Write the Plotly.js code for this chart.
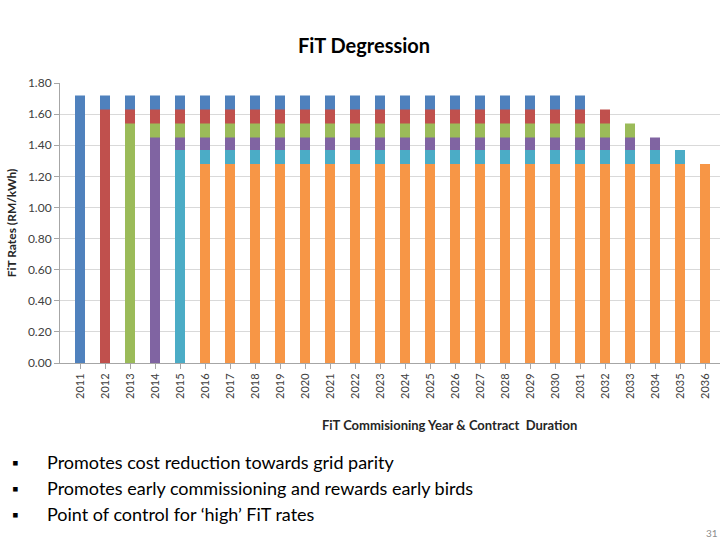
<!DOCTYPE html>
<html>
<head>
<meta charset="utf-8">
<script src="https://cdn.plot.ly/plotly-3.0.1.min.js"></script>
<style>
html,body{margin:0;padding:0;background:#fff;}
#chart{width:728px;height:546px;}
</style>
</head>
<body>
<div id="chart"></div>
<script>
const years = ["2011","2012","2013","2014","2015","2016","2017","2018","2019","2020","2021","2022","2023","2024","2025","2026","2027","2028","2029","2030","2031","2032","2033","2034","2035","2036"];

const cohort2011 = [1.72,1.72,1.72,1.72,1.72,1.72,1.72,1.72,1.72,1.72,1.72,1.72,1.72,1.72,1.72,1.72,1.72,1.72,1.72,1.72,1.72,null,null,null,null,null];
const cohort2012 = [null,1.63,1.63,1.63,1.63,1.63,1.63,1.63,1.63,1.63,1.63,1.63,1.63,1.63,1.63,1.63,1.63,1.63,1.63,1.63,1.63,1.63,null,null,null,null];
const cohort2013 = [null,null,1.54,1.54,1.54,1.54,1.54,1.54,1.54,1.54,1.54,1.54,1.54,1.54,1.54,1.54,1.54,1.54,1.54,1.54,1.54,1.54,1.54,null,null,null];
const cohort2014 = [null,null,null,1.45,1.45,1.45,1.45,1.45,1.45,1.45,1.45,1.45,1.45,1.45,1.45,1.45,1.45,1.45,1.45,1.45,1.45,1.45,1.45,1.45,null,null];
const cohort2015 = [null,null,null,null,1.37,1.37,1.37,1.37,1.37,1.37,1.37,1.37,1.37,1.37,1.37,1.37,1.37,1.37,1.37,1.37,1.37,1.37,1.37,1.37,1.37,null];
const cohort2016 = [null,null,null,null,null,1.28,1.28,1.28,1.28,1.28,1.28,1.28,1.28,1.28,1.28,1.28,1.28,1.28,1.28,1.28,1.28,1.28,1.28,1.28,1.28,1.28];

const seriesNames = ["2011","2012","2013","2014","2015","2016"];
const seriesColors = ["#4F81BD","#C0504D","#9BBB59","#8064A2","#4BACC6","#F79646"];
const seriesValues = [cohort2011,cohort2012,cohort2013,cohort2014,cohort2015,cohort2016];

const bullets = [
  "Promotes cost reduction towards grid parity",
  "Promotes early commissioning and rewards early birds",
  "Point of control for \u2018high\u2019 FiT rates"
];

const FONT = "Lato, 'Open Sans', sans-serif";

const traces = seriesValues.map((vals, i) => ({
  type: "bar",
  x: years,
  y: vals,
  name: seriesNames[i],
  marker: {color: seriesColors[i], line: {width: 0}},
  width: 0.4,
  hoverinfo: "x+y"
}));

// paper coordinates for text below the plot
const plotLeft = 60, plotW = 660, plotTop = 83, plotH = 280;
const px = v => (v - plotLeft) / plotW;
const py = v => (plotTop + plotH - v) / plotH;

const annotations = [];
const bulletY = [462, 488, 514];
bullets.forEach((t, i) => {
  annotations.push({xref:"paper", yref:"paper", x: px(10), y: py(bulletY[i]), xanchor:"left", yanchor:"middle",
    text:"\u25AA", showarrow:false, font:{family:FONT, size:17, color:"#000"}});
  annotations.push({xref:"paper", yref:"paper", x: px(45), y: py(bulletY[i]), xanchor:"left", yanchor:"middle",
    text:t, showarrow:false, font:{family:FONT, size:18, color:"#000"}});
});
annotations.push({xref:"paper", yref:"paper", x: px(449), y: py(425), xanchor:"center", yanchor:"middle",
  text:"<b>FiT Commisioning Year & Contract  Duration</b>", showarrow:false,
  font:{family:FONT, size:13, color:"#262626"}});
annotations.push({xref:"paper", yref:"paper", x: px(720), y: py(533), xanchor:"right", yanchor:"middle",
  text:"31", showarrow:false, font:{family:FONT, size:10, color:"#8c8c8c"}});

const layout = {
  width: 728, height: 546,
  margin: {l: 60, r: 8, t: 83, b: 183},
  paper_bgcolor: "#fff", plot_bgcolor: "#fff",
  title: {text: "<b>FiT Degression</b>", x: 0.5, xref: "container", xanchor: "center", y: 1 - 46/546, yanchor: "middle",
    font: {family: FONT, size: 20, color: "#000"}},
  barmode: "overlay",
  showlegend: false,
  xaxis: {
    type: "category",
    range: [-0.8, 25.6],
    tickangle: -90,
    tickfont: {family: FONT, size: 11, color: "#404040"},
    showgrid: false,
    showline: true, linecolor: "#a6a6a6", linewidth: 1,
    ticks: "outside", ticklen: 5, tickcolor: "#a6a6a6"
  },
  yaxis: {
    range: [0, 1.8],
    dtick: 0.2,
    tickformat: ".2f",
    tickfont: {family: FONT, size: 12, color: "#404040"},
    showgrid: true, gridcolor: "#d9d9d9", gridwidth: 1,
    zeroline: false,
    showline: true, linecolor: "#a6a6a6", linewidth: 1,
    ticks: "outside", ticklen: 5, tickcolor: "#a6a6a6",
    title: {text: "<b>FiT Rates (RM/kWh)</b>", standoff: 8,
      font: {family: FONT, size: 12, color: "#262626"}}
  },
  annotations: annotations
};

Plotly.newPlot("chart", traces, layout, {displayModeBar: false, staticPlot: true});
</script>
</body>
</html>
